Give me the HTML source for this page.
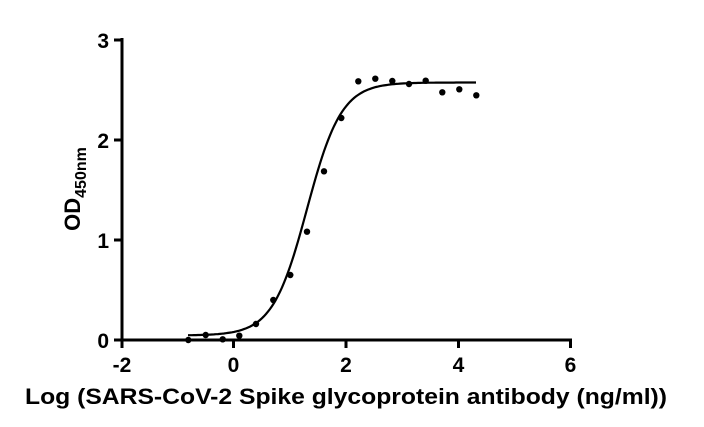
<!DOCTYPE html>
<html><head><style>body{margin:0;background:#fff}svg{display:block}text{font-family:"Liberation Sans",Arial,sans-serif;font-weight:bold;fill:#000}</style></head>
<body>
<svg id="s" width="704" height="427" viewBox="0 0 704 427">
<g stroke="#000" stroke-width="3" fill="none">
<line x1="122" y1="38" x2="122" y2="341"/>
<line x1="121" y1="340" x2="572" y2="340"/>
<line x1="114" y1="40" x2="122" y2="40"/>
<line x1="114" y1="140" x2="122" y2="140"/>
<line x1="114" y1="240" x2="122" y2="240"/>
<line x1="114" y1="340" x2="122" y2="340"/>
<line x1="122" y1="340" x2="122" y2="348"/>
<line x1="233.5" y1="340" x2="233.5" y2="348"/>
<line x1="346" y1="340" x2="346" y2="348"/>
<line x1="458.5" y1="340" x2="458.5" y2="348"/>
<line x1="570.5" y1="340" x2="570.5" y2="348"/>
<path id="c" stroke-width="2.2"/>
</g>
<g font-size="21" text-anchor="end">
<text x="109" y="48">3</text><text x="109" y="148">2</text><text x="109" y="248">1</text><text x="109" y="348">0</text>
</g>
<g font-size="21" text-anchor="middle">
<text x="122" y="372">-2</text><text x="233.5" y="372">0</text><text x="346" y="372">2</text><text x="458.5" y="372">4</text><text x="570.5" y="372">6</text>
</g>
<text x="346" y="404" font-size="22" text-anchor="middle" textLength="642" lengthAdjust="spacingAndGlyphs">Log (SARS-CoV-2 Spike glycoprotein antibody (ng/ml))</text>
<text transform="translate(80,189) rotate(-90)" font-size="22" text-anchor="middle">OD<tspan font-size="16" dy="6">450nm</tspan></text>
<g id="p" fill="#000"></g>
</svg>
<script>
var pts=[[188.3,340],[205.7,335],[222.7,339.3],[239.3,335.7],[256,324],[273.3,300],[290.3,275],[307,231.7],[324,171.3],[341.3,118],[358.3,81.3],[375.3,78.7],[392.3,81],[409,84],[425.7,80.7],[442.3,92.3],[459.3,89.3],[476.3,95.3]];
var g=document.getElementById('p'),h='';
pts.forEach(function(p){h+='<circle cx="'+p[0]+'" cy="'+p[1]+'" r="3.2"/>';});
g.innerHTML=h;
var d='';
for(var x=188;x<=477;x+=2){var y=335.5-(253)/(1+Math.exp(-0.058*(x-307)));d+=(d?'L':'M')+x+' '+y.toFixed(1);}
document.getElementById('c').setAttribute('d',d);
</script>
</body></html>
